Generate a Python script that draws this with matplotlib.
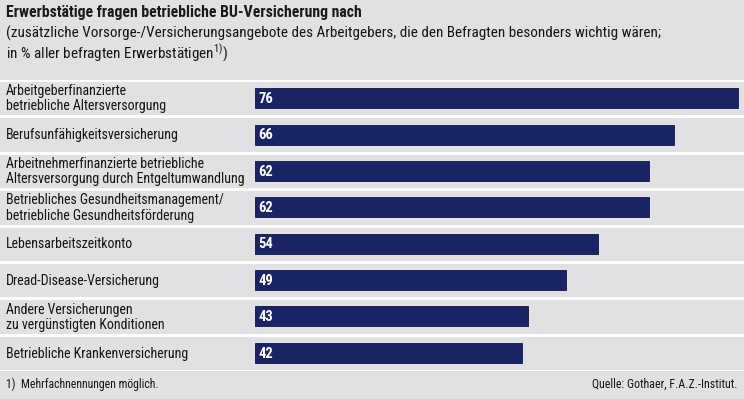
import matplotlib
matplotlib.use("Agg")
import matplotlib.pyplot as plt
from matplotlib.transforms import blended_transform_factory

# Daten
categories = [
    "Arbeitgeberfinanzierte\nbetriebliche Altersversorgung",
    "Berufsunfähigkeitsversicherung",
    "Arbeitnehmerfinanzierte betriebliche\nAltersversorgung durch Entgeltumwandlung",
    "Betriebliches Gesundheitsmanagement/\nbetriebliche Gesundheitsförderung",
    "Lebensarbeitszeitkonto",
    "Dread-Disease-Versicherung",
    "Andere Versicherungen\nzu vergünstigten Konditionen",
    "Betriebliche Krankenversicherung",
]
values = [76, 66, 62, 62, 54, 49, 43, 42]

title = "Erwerbstätige fragen betriebliche BU-Versicherung nach"
sub1 = "(zusätzliche Vorsorge-/Versicherungsangebote des Arbeitgebers, die den Befragten besonders wichtig wären;"
sub2 = "in % aller befragten Erwerbstätigen$^{1)}$)"
footnote = "1)  Mehrfachnennungen möglich."
source = "Quelle: Gothaer, F.A.Z.-Institut."

plt.rcParams['font.family'] = ['Roboto Condensed', 'Archivo Narrow', 'DejaVu Sans']
plt.rcParams['mathtext.fontset'] = 'custom'
plt.rcParams['mathtext.rm'] = 'Roboto Condensed'
plt.rcParams['mathtext.default'] = 'rm'

bg = '#e1e1e3'
bar_col = '#1a2365'
txt_col = '#141414'
W, H = 744, 399

fig = plt.figure(figsize=(W / 100, H / 100), dpi=100, facecolor=bg)
# axes over the row area (y 80..371 px), full width
ax = fig.add_axes([0, 1 - 371 / H, 1, (371 - 80) / H])
ax.set_facecolor(bg)
px = 6.35  # pixels per percent
ax.set_xlim(-255 / px, (W - 255) / px)
ax.set_ylim(len(values) - 0.5, -0.5)
ax.axis('off')

y = list(range(len(values)))
ax.barh(y, values, height=0.55, color=bar_col, edgecolor='#10173f', linewidth=0.6, zorder=2)

for k in range(len(values) + 1):
    ax.axhline(k - 0.5, color='white', lw=2.2, zorder=1)

trans = blended_transform_factory(ax.transAxes, ax.transData)
for yi, (cat, v) in enumerate(zip(categories, values)):
    ax.text(6 / W, yi + 0.02, cat, transform=trans, ha='left', va='center',
            fontsize=10, color=txt_col, linespacing=1.1)
    ax.text(0.5, yi + 0.02, str(v), ha='left', va='center', fontsize=10.5,
            fontweight='bold', color='white', zorder=3)

fig.text(6 / W, 1 - 13 / H, title, ha='left', va='center', fontsize=11.3,
         fontweight='bold', color='#1a1a1a')
fig.text(6 / W, 1 - 33 / H, sub1, ha='left', va='center', fontsize=10.9,
         color=txt_col)
fig.text(6 / W, 1 - 53 / H, sub2, ha='left', va='center', fontsize=10.9,
         color=txt_col)
fig.text(6 / W, 1 - 384 / H, footnote, ha='left', va='center', fontsize=8.5,
         color=txt_col)
fig.text(738 / W, 1 - 384 / H, source, ha='right', va='center', fontsize=8.6,
         color=txt_col)

fig.savefig("out.png", dpi=100, facecolor=bg)
